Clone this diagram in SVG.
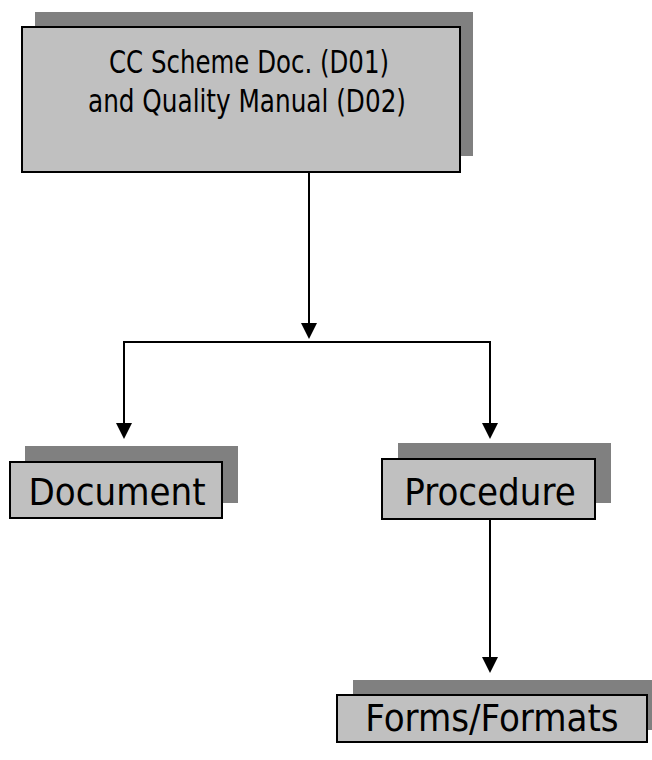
<svg xmlns="http://www.w3.org/2000/svg" width="652" height="760" viewBox="0 0 652 760">
<style>
.shadow{fill:#808080;stroke:none}
.box{fill:#c0c0c0;stroke:#000;stroke-width:2}
.lbl{font-family:"DejaVu Sans Condensed","DejaVu Sans","Liberation Sans",sans-serif;font-stretch:condensed;fill:#000;text-anchor:middle}
.conn{stroke:#000;stroke-width:2;fill:none}
.head{fill:#000}
</style>
<rect width="652" height="760" fill="#fff"/>
<g id="top">
<rect class="shadow" x="35" y="12" width="438" height="144"/>
<rect class="box" x="22" y="27" width="438" height="145"/>
<text class="lbl" x="249" y="73" font-size="32" textLength="280" lengthAdjust="spacingAndGlyphs">CC Scheme Doc. (D01)</text>
<text class="lbl" x="247" y="112" font-size="32" textLength="318" lengthAdjust="spacingAndGlyphs">and Quality Manual (D02)</text>
</g>
<g id="document">
<rect class="shadow" x="25" y="446" width="213" height="57"/>
<rect class="box" x="10" y="462" width="212" height="56"/>
<text class="lbl" x="117" y="505" font-size="38">Document</text>
</g>
<g id="procedure">
<rect class="shadow" x="398" y="443" width="213" height="60"/>
<rect class="box" x="382" y="459" width="213" height="60"/>
<text class="lbl" x="490" y="505" font-size="38">Procedure</text>
</g>
<g id="forms">
<rect class="shadow" x="353" y="680" width="305" height="50"/>
<rect class="box" x="337" y="695" width="310" height="47"/>
<text class="lbl" x="492" y="731" font-size="38">Forms/Formats</text>
</g>
<g id="connectors">
<line class="conn" x1="309" y1="172" x2="309" y2="324"/>
<path class="head" d="M301,323 L317,323 L309,339 Z"/>
<polyline class="conn" points="124,424 124,342 490,342 490,424"/>
<path class="head" d="M116,423 L132,423 L124,439 Z"/>
<path class="head" d="M482,423 L498,423 L490,439 Z"/>
<line class="conn" x1="490" y1="519" x2="490" y2="658"/>
<path class="head" d="M482,657 L498,657 L490,673 Z"/>
</g>
</svg>
